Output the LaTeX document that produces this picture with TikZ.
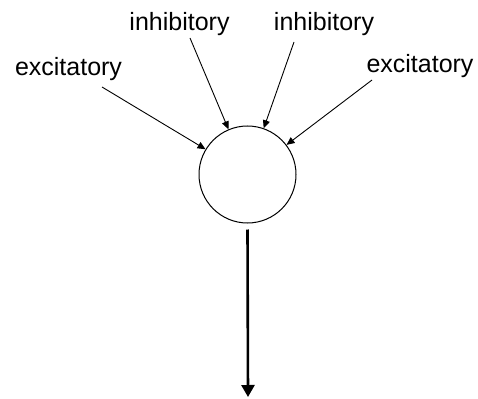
\documentclass[tikz,border=0pt]{standalone}
\usepackage{fontspec}
\setmainfont{Liberation Sans}
\usetikzlibrary{arrows.meta}
\begin{document}
\begin{tikzpicture}[x=1pt,y=-1pt,
  lbl/.style={inner sep=0pt,anchor=base,font=\fontsize{25}{25}\selectfont},
  synapse/.style={line width=0.9pt,-{Triangle[length=8pt,width=7pt]}},
  axon/.style={line width=2.6pt,-{Triangle[length=12pt,width=13pt]}}]
\useasboundingbox (0,0) rectangle (478,398);
% neuron body
\node[circle,draw,line width=1pt,minimum size=97pt,inner sep=0pt] (cell) at (247.5,174.5) {};
% input labels
\node[lbl] (exL) at (68.5,76) {excitatory};
\node[lbl] (inL) at (179.5,31) {inhibitory};
\node[lbl] (inR) at (324,31) {inhibitory};
\node[lbl] (exR) at (420,73) {excitatory};
% tails of the input arrows, just below their labels
\coordinate (exLt) at (102,87);
\coordinate (inLt) at (190,38);
\coordinate (inRt) at (294,42);
\coordinate (exRt) at (372,80);
\coordinate (out) at (248,397);
% inputs
\draw[synapse] (exLt) -- (cell);
\draw[synapse] (inLt) -- (cell);
\draw[synapse] (inRt) -- (cell);
\draw[synapse] (exRt) -- (cell);
% output
\draw[axon] ([yshift=-6pt]cell.south) -- (out);
\end{tikzpicture}
\end{document}
